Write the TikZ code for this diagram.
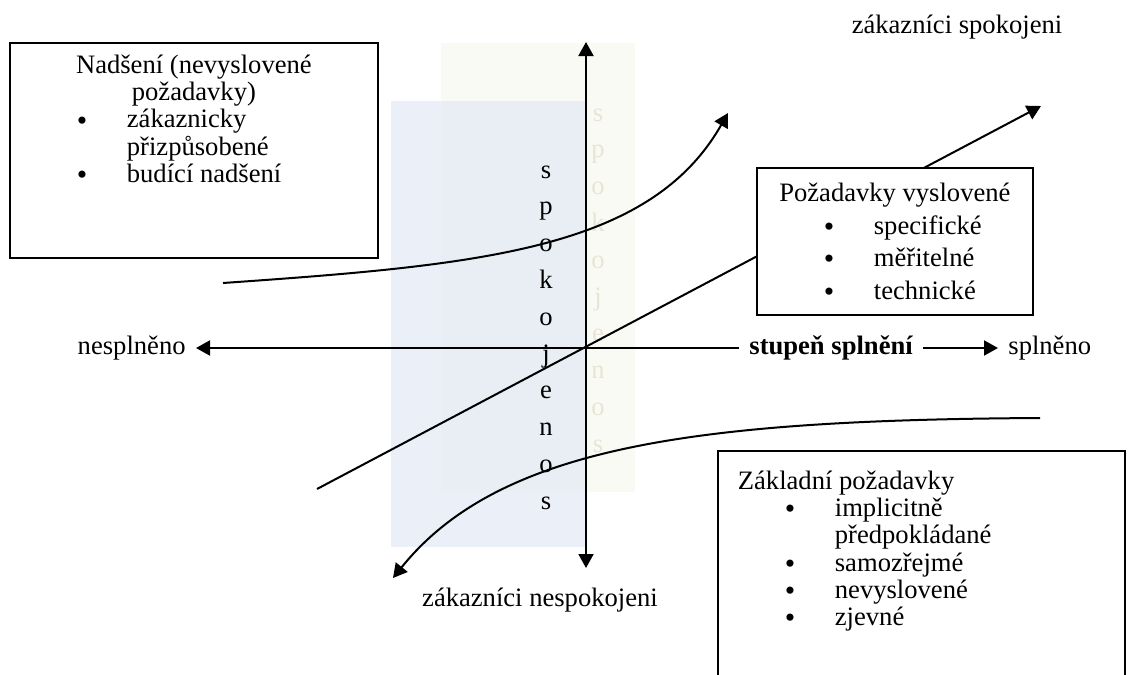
\documentclass[tikz,border=0pt]{standalone}
\usepackage{fontspec}
\setmainfont{Liberation Serif}
\usetikzlibrary{arrows.meta, positioning}
\setlength{\parindent}{0pt}
\definecolor{paleyellow}{RGB}{249,250,244}
\definecolor{paleblue}{RGB}{222,230,243}
\definecolor{fadetext}{RGB}{232,229,212}
\newcommand{\txtfont}{\fontsize{13.3}{13.6}\selectfont}
\newcommand{\bigdot}{\raisebox{-1.1pt}{\scalebox{1.12}{\textbullet}}}
\newcommand{\bitem}[1]{\par\hspace*{33.5pt}\makebox[25pt][l]{\bigdot}#1}
\newcommand{\bcont}[1]{\par\hspace*{58.5pt}#1}

\begin{document}
\begin{tikzpicture}[
        x=0.5pt, y=-0.5pt,
        arrow/.style={line width=1pt, -{Triangle[length=7pt, width=7.5pt]}},
        biarrow/.style={line width=1pt, {Triangle[length=7pt, width=7.5pt]}-{Triangle[length=7pt, width=7.5pt]}},
        axislabel/.style={font=\txtfont, inner sep=5pt},
        vletter/.style={font=\txtfont, inner sep=0pt, anchor=base},
        textbox/.style={draw, line width=0.9pt, fill=white, anchor=north west, inner sep=0pt, font=\txtfont}
    ]
        \useasboundingbox (0,0) rectangle (1132,675);

        % Shaded strips
        \fill[paleyellow] (441,43) rectangle (635,492);
        \fill[paleblue, fill opacity=0.6] (391,101) rectangle (585,547);
        \foreach \ch [count=\i from 0] in {s,p,o,k,o,j,e,n,o,s} {
            \node[vletter, text=fadetext] (fade\i) at (598,121+36.8*\i) {\ch};
            \node[vletter] (letter\i) at (546,178+36.8*\i) {\ch};
        }

        % Axes
        \coordinate (vtop) at (586,42);
        \coordinate (vbot) at (586,568);
        \draw[biarrow] (vbot) -- (vtop);
        \node[axislabel] (spokojeni) at (957,27) {zákazníci spokojeni};
        \node[axislabel] (nespokojeni) at (540,600) {zákazníci nespokojeni};
        \node[axislabel, anchor=east] (nesplneno) at (196,348) {nesplněno};
        \node[axislabel, anchor=west, font=\txtfont\bfseries] (stupen) at (739,348) {stupeň splnění};
        \node[axislabel, anchor=west] (splneno) at (998,348) {splněno};
        \draw[arrow] (stupen.west) -- (nesplneno.east);
        \draw[arrow] (stupen.east) -- (splneno.west);

        % Curves
        \coordinate (nadA) at (223,283);
        \coordinate (nadB) at (728,113);
        \draw[arrow] (nadA) .. controls (480,265) and (650,250) .. (nadB);
        \coordinate (vysA) at (317,489);
        \coordinate (vysB) at (1041,106);
        \draw[arrow] (vysA) -- (vysB);
        \coordinate (zakA) at (1040,418);
        \coordinate (zakB) at (393,578);
        \draw[arrow] (zakA) .. controls (700,420) and (500,445) .. (zakB);

        % Requirement boxes
        \node[textbox] (nadseni) at (9,42) {\parbox[t][107.5pt][t]{184pt}{\vspace*{6pt}%
            {\centering Nadšení (nevyslovené\\ požadavky)\par}\raggedright
            \bitem{zákaznicky}\bcont{přizpůsobené}\bitem{budící nadšení}}};
        \node[textbox] (vyslovene) at (756,167) {\parbox[t][73.5pt][t]{138pt}{\fontsize{13.3}{16.3}\selectfont\vspace*{7.5pt}%
            {\centering Požadavky vyslovené\par}\raggedright
            \bitem{specifické}\bitem{měřitelné}\bitem{technické}}};
        \node[textbox] (zakladni) at (717,450) {\parbox[t][120pt][t]{203.5pt}{\vspace*{10pt}\raggedright
            \hspace*{10pt}Základní požadavky
            \bitem{implicitně}\bcont{předpokládané}\bitem{samozřejmé}\bitem{nevyslovené}\bitem{zjevné}}};
    \end{tikzpicture}
\end{document}
